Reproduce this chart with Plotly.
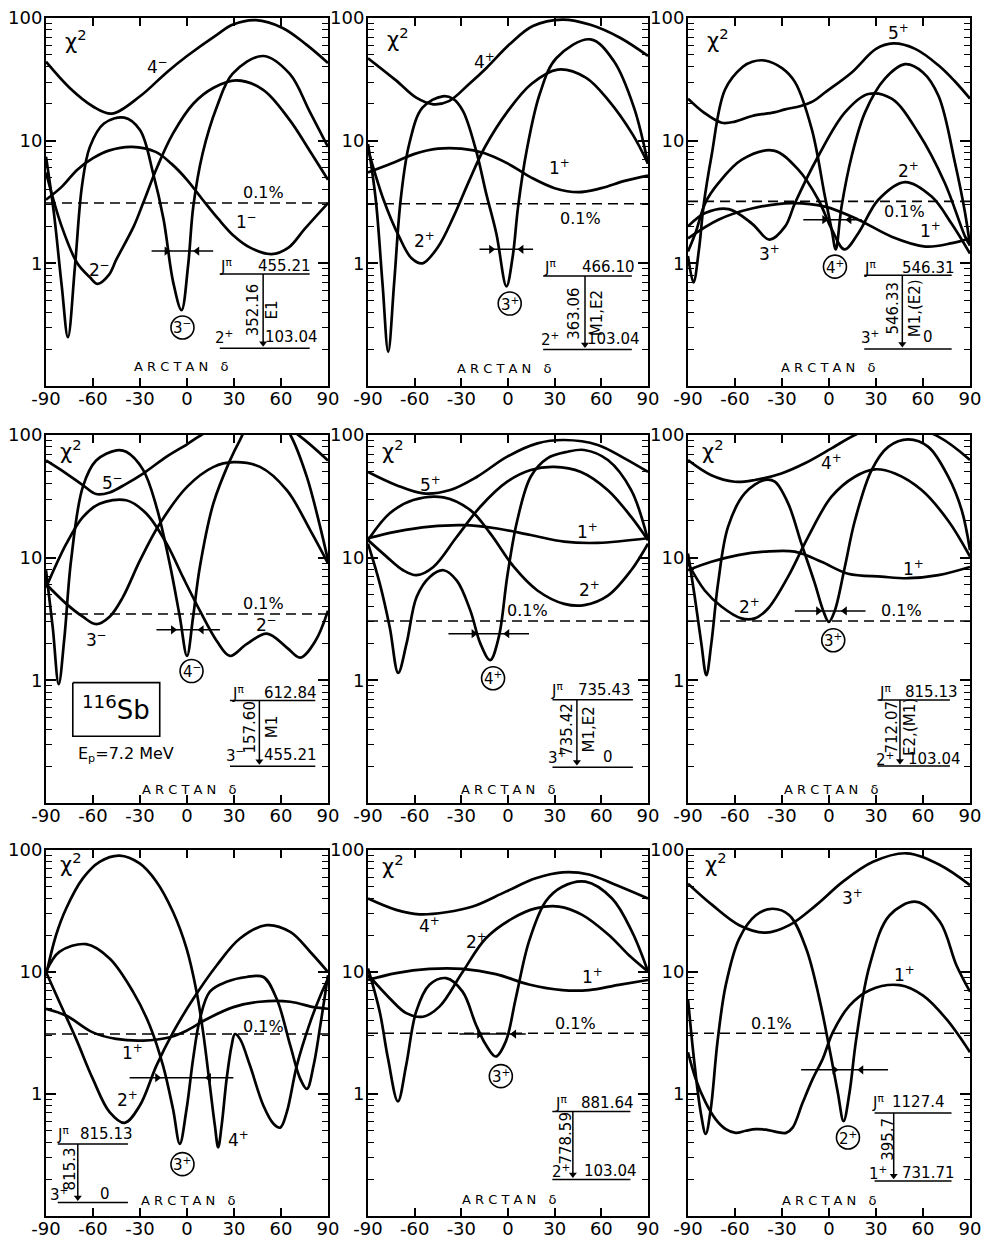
import math
import plotly.graph_objects as go

# ------------------------------------------------------------------
# DATA  (x = arctan(delta) in degrees, y = chi^2)
# ------------------------------------------------------------------
X_TICKS = [-90, -60, -30, 0, 30, 60, 90]
X_TICK_TEXT = ["-90", "-60", "-30", "0", "30", "60", "90"]
Y_MAJOR = [0.1, 1, 10, 100]
Y_MAJOR_TEXT = ["", "1", "10", "100"]
Y_MINOR = [0.2, 0.3, 0.4, 0.5, 0.6, 0.7, 0.8, 0.9, 2, 3, 4, 5, 6, 7, 8, 9,
           20, 30, 40, 50, 60, 70, 80, 90]

# Panel 1: 455.21 level
p1_4m_x = [-90, -75, -60, -48, -30, -13, 0, 19, 29, 44, 61, 76, 90]
p1_4m_y = [44, 27, 19, 16.6, 23, 36, 49, 73, 88, 96, 83, 61, 43]
p1_3m_x = [-90, -85, -80, -76, -71.5, -67, -62, -53, -40, -30, -21.6, -15, -8.8, -3.5, 0.7, 4, 10, 19, 29, 48.5, 65.6, 78, 90]
p1_3m_y = [7.4, 2.6, 0.66, 0.25, 0.95, 4.3, 8.9, 13.8, 15.4, 12.2, 5.4, 2.3, 0.7, 0.415, 0.96, 2.9, 7.9, 18.8, 35, 49, 35, 17.6, 8.9]
p1_2m_x = [-90, -80, -70, -62, -57, -50, -45, -34, -28, -19, -9, 4, 17, 31.5, 48.6, 65.6, 78, 90]
p1_2m_y = [5.5, 2.0, 1.0, 0.77, 0.68, 0.8, 1.08, 2.0, 3.1, 6.1, 11.4, 20, 27, 31, 26, 14.7, 8.4, 4.8]
p1_1m_x = [-90, -80, -70, -60, -50, -35, -20, -10, 0, 10, 20, 30, 40, 54, 65, 75, 90]
p1_1m_y = [3.3, 4.2, 5.8, 7.2, 8.3, 8.9, 8.1, 6.5, 4.8, 3.3, 2.3, 1.67, 1.35, 1.19, 1.35, 1.9, 3.1]

# Panel 2: 466.10 level
p2_4p_x = [-90, -72, -59, -48, -38, -25, -14, 1, 16, 35, 53, 72, 90]
p2_4p_y = [47, 31, 22.4, 19.8, 21, 29, 39, 61, 86, 97, 88, 69, 49]
p2_3p_x = [-90, -85, -80.7, -77, -73.2, -69, -63.5, -55, -42, -35.5, -29, -20.5, -14, -7.5, -1, 3, 6.5, 12, 20.4, 31, 53, 68, 81, 90]
p2_3p_y = [9.4, 3.3, 0.69, 0.19, 0.69, 3.3, 9.4, 18.6, 23, 22, 17.5, 8.3, 3.7, 1.75, 0.65, 1.13, 2.9, 8.3, 24, 47, 67, 44.6, 18.6, 6.5]
p2_2p_x = [-90, -80, -70, -62, -55, -45, -35, -25, -15, 0, 15, 32, 50, 65, 80, 90]
p2_2p_y = [8.5, 3.3, 1.65, 1.1, 1.0, 1.36, 2.4, 4.7, 8.8, 17.5, 29, 38, 32.7, 21, 11.3, 6.5]
p2_1p_x = [-90, -75, -60, -45, -30, -15, 0, 15, 30, 45, 60, 75, 90]
p2_1p_y = [5.5, 6.5, 7.8, 8.6, 8.6, 7.9, 6.5, 5.0, 4.1, 3.8, 4.1, 4.7, 5.2]

# Panel 3: 546.31 level
p3_5p_x = [-90, -80, -68.5, -60, -49, -35, -28, -18, -10, -2.6, 14.5, 30, 41, 55, 70, 80, 90]
p3_5p_y = [22, 17, 14, 14.3, 15.9, 17, 18, 19.2, 21, 24.7, 36, 56, 62, 56, 41, 30.8, 22]
p3_4p_x = [-90, -86.5, -83, -80, -75, -66.4, -55, -49, -41, -30, -21.7, -11, -2.6, 1.7, 4.3, 8, 14.5, 23, 35.7, 48.5, 60, 70, 80.4, 86.8, 90]
p3_4p_y = [1.15, 0.7, 1.3, 3.0, 7.5, 26, 40, 44, 45, 39, 30, 12.4, 3.5, 1.88, 1.3, 2.9, 7.5, 17, 32, 42, 36, 23, 6.6, 2.6, 1.4]
p3_3p_x = [-90, -79, -64, -49, -38, -28, -21.7, -6.8, 10.2, 25, 40, 57, 74, 86.8, 90]
p3_3p_y = [2.0, 2.57, 2.77, 2.1, 1.56, 2.0, 3.1, 7.5, 17, 24, 22, 11.6, 4.5, 1.66, 1.4]
p3_2p_x = [-90, -85, -79, -70.6, -55.6, -35.4, -19.6, -6.8, 1.7, 9.9, 18.7, 31.5, 48.5, 65.5, 78.3, 90]
p3_2p_y = [1.25, 1.8, 3.1, 4.5, 7.0, 8.3, 5.8, 3.3, 1.9, 1.3, 1.76, 3.3, 4.6, 3.5, 2.1, 1.2]
p3_1p_x = [-90, -70.6, -49.3, -23.8, -2.6, 18.7, 40, 61.5, 78.5, 90]
p3_1p_y = [1.6, 2.27, 2.8, 3.1, 2.9, 2.27, 1.65, 1.37, 1.46, 1.6]

# Panel 4: 612.84 level
p4_5m_x = [-90, -77, -66.5, -58, -49.4, -38.8, -28, -13, 0, 8, 20, 35, 55, 72, 90]
p4_5m_y = [62, 48.5, 39, 33, 34, 40, 48.5, 66.6, 84, 98, 120, 140, 135, 98, 62]
p4_4m_x = [-90, -85.7, -81.9, -78.3, -74, -66.5, -58, -45, -38.8, -28, -19.5, -11, -4.6, 0, 3.9, 8.2, 16.8, 27.4, 33.8, 45, 56, 66, 76.5, 85, 90]
p4_4m_y = [7.9, 2.7, 0.93, 2.2, 9.5, 37.8, 62, 75, 73, 52, 26, 8.9, 3.3, 1.58, 3.3, 8.4, 27.6, 62, 91, 160, 150, 100, 45.6, 17.8, 9.5]
p4_3m_x = [-90, -77, -66.5, -58, -49.4, -41, -30, -17.4, 0, 17, 29.6, 46.6, 63.7, 78.7, 90]
p4_3m_y = [6.1, 4.2, 3.3, 2.87, 3.3, 4.75, 9.5, 18.9, 37.8, 55, 60, 55, 35.5, 16.7, 9.0]
p4_2m_x = [-90, -77, -66.5, -55.8, -38.8, -26, -13, -2.5, 8.2, 18.9, 27.4, 38, 51, 63.7, 72.3, 82, 90]
p4_2m_y = [5.7, 13, 21.4, 27.5, 29.4, 22.9, 13, 6.9, 3.7, 2.1, 1.58, 1.97, 2.4, 1.85, 1.53, 2.1, 3.7]

# Panel 5: 735.43 level
p5_5p_x = [-90, -71.7, -54.4, -37.2, -19.9, -0.5, 18.9, 36.1, 57.7, 74.9, 90]
p5_5p_y = [50, 39, 33.4, 35.6, 45.7, 66.6, 85.5, 91, 83, 64.5, 50]
p5_4p_x = [-90, -82.5, -76, -70.6, -65.2, -58.7, -50.1, -41.5, -32.9, -24.2, -17.8, -11.5, -5.9, -0.5, 5.9, 14.6, 25.3, 38.3, 49, 64.2, 79.2, 90]
p5_4p_y = [13, 6.2, 2.7, 1.15, 2.0, 4.8, 7, 7.9, 6.5, 3.7, 2.0, 1.46, 2.26, 7, 20, 45.7, 64.5, 73, 75.5, 62.5, 35.5, 13.9]
p5_3p_x = [-90, -78.1, -67.4, -58.7, -48, -32.9, -17.8, -0.5, 14.6, 29.7, 46.9, 64.2, 79.2, 90]
p5_3p_y = [13.9, 10.2, 7.9, 7.2, 8.4, 14.8, 26, 41.6, 51.8, 55, 50, 35.5, 21.5, 13.9]
p5_2p_x = [-90, -76, -60.9, -41.5, -24.2, -11.3, 3.8, 18.9, 36.1, 49, 64.2, 79.2, 90]
p5_2p_y = [13.9, 23, 29.5, 31, 24.4, 15.7, 8.4, 5.4, 4.2, 4.1, 4.9, 7.9, 13]
p5_1p_x = [-90, -71.7, -50.1, -28.6, -7, 14.6, 36.1, 57.7, 90]
p5_1p_y = [14.4, 16.3, 17.9, 18.4, 17.3, 15.3, 13.5, 13.2, 14.4]

# Panel 6: 815.13 level
p6_4p_x = [-90, -75.1, -60.2, -47.4, -30.4, -15.4, 1.6, 16.5, 40, 69.8, 90]
p6_4p_y = [62.5, 47, 41.6, 43, 48.6, 58.8, 77.8, 100, 130, 97, 62.5]
p6_3p_x = [-90, -85.7, -81.5, -78.3, -75.1, -70.8, -64.4, -53.8, -41, -34.6, -26.1, -17.6, -9.1, -3.7, -0.1, 3.7, 10.1, 16.5, 27.2, 37.8, 50.6, 63.4, 76.1, 84.7, 90]
p6_3p_y = [10.8, 4.8, 2.0, 1.1, 2.0, 6.2, 17.9, 33.4, 43, 41.6, 27.7, 13, 6.2, 3.7, 3.0, 3.7, 8.4, 20, 51.8, 80, 92, 80, 45.7, 24.4, 11.5]
p6_2p_x = [-90, -79.3, -68.7, -55.9, -47.4, -38.9, -26.1, -13.3, 1.6, 16.5, 29.3, 42.1, 59.1, 76.1, 90]
p6_2p_y = [9, 5.4, 4.0, 3.2, 3.2, 3.85, 7, 14.8, 31.4, 45.7, 52.5, 48.6, 35.6, 20, 10.2]
p6_1p_x = [-90, -75.1, -58.1, -41, -21.8, -4.8, 12.2, 33.5, 50.6, 69.8, 90]
p6_1p_y = [7.9, 9.25, 10.5, 11.2, 11.2, 9.25, 7.4, 7, 6.8, 7.2, 8.4]

# Panel 7: 815.13 level (ground-state branch)
p7_4p_x = [-90, -83.6, -77.2, -66.5, -55.8, -43, -30.2, -19.5, -8.9, -0.3, 6.1, 10.3, 14.6, 17.8, 19.9, 22.1, 25.3, 28.5, 30.6, 33.8, 40.2, 48.8, 55.2, 59.5, 63.7, 70.1, 78.7, 85.1, 90]
p7_4p_y = [9.4, 20, 33, 58.5, 80, 90, 77.6, 55, 31, 15.6, 6.9, 3.2, 1.17, 0.55, 0.365, 0.55, 1.33, 2.5, 3.1, 2.83, 1.71, 0.8, 0.57, 0.53, 0.71, 1.71, 3.9, 6.4, 8.8]
p7_3p_x = [-90, -81.5, -64.4, -49.4, -34.5, -23.8, -15.3, -8.9, -4.6, -0.3, 3.9, 8.2, 14.6, 25.3, 38.1, 48.8, 57.3, 65.9, 72.3, 76.5, 80.8, 85.1, 90]
p7_3p_y = [10, 14.6, 16.9, 12.9, 6.9, 3.65, 1.71, 0.75, 0.39, 0.75, 1.94, 4.1, 6.9, 8.3, 9.1, 9.1, 6.0, 2.5, 1.33, 1.1, 1.71, 3.65, 9.4]
p7_2p_x = [-90, -81.5, -70.8, -60.1, -49.4, -39.8, -30.2, -19.5, -8.9, 3.9, 18.9, 33.8, 50.9, 65.9, 78.7, 90]
p7_2p_y = [10, 5.7, 2.83, 1.33, 0.71, 0.58, 0.8, 1.71, 3.2, 6.0, 11.3, 18.8, 24.2, 21.3, 14.6, 10]
p7_1p_x = [-90, -77.2, -60.1, -45.2, -28.1, -11, -0.3, 12.5, 29.6, 46.6, 65.9, 80.8, 90]
p7_1p_y = [5.0, 4.4, 3.2, 2.83, 2.74, 2.92, 3.3, 4.1, 5.15, 5.7, 5.7, 5.15, 5.0]

# Panel 8: 881.64 level
p8_4p_x = [-90, -71.9, -56.9, -39.8, -22.7, -1.4, 17.8, 34.9, 52, 69.1, 90]
p8_4p_y = [40, 32.3, 29.7, 30.9, 34.4, 45.6, 58.6, 65.6, 63, 51.8, 40]
p8_3p_x = [-90, -82.5, -77.2, -70.8, -65.4, -59, -50.5, -39.8, -29.2, -20.6, -14.2, -7.8, -1.4, 5, 13.5, 24.2, 34.9, 49.8, 66.9, 79.7, 90]
p8_3p_y = [10.7, 4.75, 1.97, 0.87, 1.74, 4.75, 7.85, 8.9, 6.9, 3.7, 2.53, 2.03, 2.7, 6.1, 17.8, 37.8, 50, 55, 40, 21.4, 10.1]
p8_2p_x = [-90, -76.1, -65.4, -54.7, -44.1, -29.2, -14.2, 2.9, 17.8, 32.8, 47.7, 64.8, 77.6, 90]
p8_2p_y = [9.5, 6.1, 4.6, 4.3, 5.2, 10, 18.9, 27.5, 33.2, 34.4, 29.4, 20.1, 13.8, 10.1]
p8_1p_x = [-90, -71.9, -50.5, -29.2, -7.8, 13.5, 34.9, 52, 71.2, 90]
p8_1p_y = [8.6, 9.8, 10.6, 10.6, 9.6, 7.9, 7.1, 7.1, 7.85, 8.6]

# Panel 9: 1127.4 level
p9_3p_x = [-90, -74.4, -57.3, -40.3, -25.3, -8.2, 8.9, 28.1, 49.4, 70.8, 90]
p9_3p_y = [53, 35.3, 24.2, 21, 24.2, 35.3, 55, 80, 94, 75.4, 51.5]
p9_2p_x = [-90, -86.2, -81.9, -78.7, -75.5, -71.2, -65.9, -57.3, -46.7, -36, -25.3, -14.6, -6.1, 0.3, 5.6, 9.3, 13.1, 17.4, 25.9, 38.7, 55.8, 70.8, 81.4, 90]
p9_2p_y = [6.0, 1.94, 0.71, 0.47, 0.75, 2.66, 7.8, 18.8, 29.2, 33, 29.2, 15.6, 6.0, 2.35, 1.03, 0.6, 1.03, 2.83, 11.3, 29.2, 37.6, 25.8, 11.3, 6.9]
p9_1p_x = [-90, -85.1, -78.7, -72.3, -65.9, -59.5, -53.1, -46.7, -40.3, -33.8, -27.4, -23.2, -16.8, -10.4, -4, 2.4, 13.1, 25.9, 45.1, 60.1, 75, 90]
p9_1p_y = [2.2, 1.33, 0.85, 0.62, 0.515, 0.48, 0.5, 0.515, 0.51, 0.49, 0.48, 0.53, 0.85, 1.33, 1.94, 3.2, 5.3, 7.1, 7.8, 6.4, 4.1, 2.2]

# 0.1 % confidence level in each panel
LIMITS = [3.1, 3.06, 3.2, 3.47, 3.05, 3.05, 3.1, 3.15, 3.15]

# level-scheme texts per panel
LEVEL_E = ["455.21", "466.10", "546.31", "612.84", "735.43", "815.13", "815.13", "881.64", "1127.4"]
FINAL_J = ["2<sup>+</sup>", "2<sup>+</sup>", "3<sup>+</sup>", "3<sup>−</sup>", "3<sup>+</sup>", "2<sup>+</sup>", "3<sup>+</sup>", "2<sup>+</sup>", "1<sup>+</sup>"]
FINAL_E = ["103.04", "103.04", "0", "455.21", "0", "103.04", "0", "103.04", "731.71"]
GAMMA_E = ["352.16", "363.06", "546.33", "157.60", "735.42", "712.07", "815.3", "778.59", "395.7"]
MULTIPOL = ["E1", "M1,E2", "M1,(E2)", "M1", "M1,E2", "E2,(M1)", "", "", ""]

# ------------------------------------------------------------------
FONT = "DejaVu Sans"
W, H = 983, 1238
COLS = [(46, 328), (368, 648), (688, 970)]
ROWS = [(18, 386), (435, 803), (850, 1216)]

fig = go.Figure()


def refs(i):
    s = "" if i == 1 else str(i)
    return "x" + s, "y" + s


def curve(i, xs, ys, width=2.7, shape="spline", dash=None):
    xr, yr = refs(i)
    fig.add_trace(go.Scatter(x=xs, y=ys, mode="lines", xaxis=xr, yaxis=yr,
                             line=dict(color="black", width=width, shape=shape,
                                       smoothing=1.0, dash=dash),
                             showlegend=False, hoverinfo="skip"))


def text(i, x, y, s, size=17, angle=0):
    xr, yr = refs(i)
    fig.add_annotation(x=x, y=math.log10(y), xref=xr, yref=yr, text=s,
                       showarrow=False, textangle=angle,
                       font=dict(family=FONT, size=size, color="black"),
                       xanchor="center", yanchor="middle")


def marker(i, xs, ys, symbol, size, open_=False):
    xr, yr = refs(i)
    m = dict(symbol=symbol, size=size, color="black")
    m["line"] = dict(width=1.6 if open_ else 0, color="black")
    fig.add_trace(go.Scatter(x=xs, y=ys, mode="markers", xaxis=xr, yaxis=yr,
                             marker=m, showlegend=False, hoverinfo="skip"))


def circled(i, x, y, s):
    marker(i, [x], [y], "circle-open", 23, open_=True)
    text(i, x, y, s, size=15)


def arrow_bar(i, y, x0, x1, xa, xb):
    curve(i, [x0, x1], [y, y], width=1.5, shape="linear")
    marker(i, [xa], [y], "triangle-right", 8)
    marker(i, [xb], [y], "triangle-left", 8)


def level_scheme(i, xl, xr, ytop, ybot, xarr, xj, xe, yjt, xf, xfe, yfb, xg, xm, ymid):
    k = i - 1
    curve(i, [xl, xr], [ytop, ytop], width=1.5, shape="linear")
    curve(i, [xl, xr], [ybot, ybot], width=1.5, shape="linear")
    curve(i, [xarr, xarr], [ytop, ybot * 1.12], width=1.5, shape="linear")
    marker(i, [xarr], [ybot * 1.1], "triangle-down", 7)
    text(i, xj, yjt, "J<sup>π</sup>", size=15)
    text(i, xe, yjt, LEVEL_E[k], size=15)
    text(i, xf, yfb, FINAL_J[k], size=15)
    text(i, xfe, yfb, FINAL_E[k], size=15)
    text(i, xg, ymid, GAMMA_E[k], size=15, angle=-90)
    if MULTIPOL[k]:
        text(i, xm, ymid, MULTIPOL[k], size=15, angle=-90)


# axes
layout = dict(width=W, height=H, margin=dict(l=0, r=0, t=0, b=0, pad=0),
              paper_bgcolor="white", plot_bgcolor="white", showlegend=False)
for r, (t, b) in enumerate(ROWS):
    for c, (l, rr) in enumerate(COLS):
        i = r * 3 + c + 1
        s = "" if i == 1 else str(i)
        layout["xaxis" + s] = dict(
            domain=[l / W, rr / W], anchor="y" + s,
            range=[-90, 90], automargin=False, ticklabeloverflow="allow",
            tickvals=X_TICKS, ticktext=X_TICK_TEXT, ticks="inside", ticklen=8,
            tickwidth=1.5, tickcolor="black", showline=True, linewidth=2,
            linecolor="black", mirror="allticks", showgrid=False, zeroline=False,
            ticklabelstandoff=-5,
            tickfont=dict(family=FONT, size=18, color="black"), fixedrange=True)
        layout["yaxis" + s] = dict(
            domain=[1 - b / H, 1 - t / H], anchor="x" + s,
            type="log", range=[-1, 2], automargin=False, ticklabeloverflow="allow",
            tickvals=Y_MAJOR, ticktext=Y_MAJOR_TEXT, ticks="inside", ticklen=10,
            tickwidth=1.5, tickcolor="black", showline=True, linewidth=2,
            linecolor="black", mirror="allticks", showgrid=False, zeroline=False,
            ticklabelstandoff=-2,
            minor=dict(tickvals=Y_MINOR, ticks="inside", ticklen=6, tickwidth=1.2,
                       tickcolor="black", showgrid=False),
            tickfont=dict(family=FONT, size=18, color="black"), fixedrange=True)
fig.update_layout(**layout)

PANEL_CURVES = [
    [(p1_4m_x, p1_4m_y), (p1_3m_x, p1_3m_y), (p1_2m_x, p1_2m_y), (p1_1m_x, p1_1m_y)],
    [(p2_4p_x, p2_4p_y), (p2_3p_x, p2_3p_y), (p2_2p_x, p2_2p_y), (p2_1p_x, p2_1p_y)],
    [(p3_5p_x, p3_5p_y), (p3_4p_x, p3_4p_y), (p3_3p_x, p3_3p_y), (p3_2p_x, p3_2p_y), (p3_1p_x, p3_1p_y)],
    [(p4_5m_x, p4_5m_y), (p4_4m_x, p4_4m_y), (p4_3m_x, p4_3m_y), (p4_2m_x, p4_2m_y)],
    [(p5_5p_x, p5_5p_y), (p5_4p_x, p5_4p_y), (p5_3p_x, p5_3p_y), (p5_2p_x, p5_2p_y), (p5_1p_x, p5_1p_y)],
    [(p6_4p_x, p6_4p_y), (p6_3p_x, p6_3p_y), (p6_2p_x, p6_2p_y), (p6_1p_x, p6_1p_y)],
    [(p7_4p_x, p7_4p_y), (p7_3p_x, p7_3p_y), (p7_2p_x, p7_2p_y), (p7_1p_x, p7_1p_y)],
    [(p8_4p_x, p8_4p_y), (p8_3p_x, p8_3p_y), (p8_2p_x, p8_2p_y), (p8_1p_x, p8_1p_y)],
    [(p9_3p_x, p9_3p_y), (p9_2p_x, p9_2p_y), (p9_1p_x, p9_1p_y)],
]

for k, curves in enumerate(PANEL_CURVES):
    i = k + 1
    for xs, ys in curves:
        curve(i, xs, ys)
    curve(i, [-90, 90], [LIMITS[k], LIMITS[k]], width=1.6, shape="linear", dash="10px,6px")

SUP_P = "<sup>+</sup>"
SUP_M = "<sup>−</sup>"
CHI = "χ<sup>2</sup>"
ARC = "A R C T A N   δ"

# ---- panel 1
text(1, -71, 66, CHI, size=21)
text(1, -19, 41, "4" + SUP_M)
text(1, -55.6, 0.9, "2" + SUP_M)
text(1, 38, 2.2, "1" + SUP_M)
text(1, 48.6, 3.8, "0.1%", size=16)
circled(1, -2.9, 0.30, "3" + SUP_M)
text(1, -3.5, 0.145, ARC, size=13)
arrow_bar(1, 1.26, -22.6, 16.7, -13, 6.5)
level_scheme(1, 20.9, 78.3, 0.82, 0.203, 48.6, 25.2, 62.4, 0.96, 23.5, 66.6, 0.25, 42.2, 54.5, 0.415)

# ---- panel 2
text(2, -71, 69, CHI, size=21)
text(2, -15, 44.6, "4" + SUP_P)
text(2, 33.4, 6.1, "1" + SUP_P)
text(2, -53.8, 1.55, "2" + SUP_P)
text(2, 46.3, 2.3, "0.1%", size=16)
circled(2, 1.1, 0.47, "3" + SUP_P)
text(2, -2.2, 0.14, ARC, size=13)
arrow_bar(2, 1.3, -18.3, 16.1, -10.8, 8.6)
level_scheme(2, 22.6, 79.6, 0.79, 0.198, 49.5, 26.9, 64.6, 0.94, 26.9, 67.8, 0.24, 42, 57, 0.39)

# ---- panel 3
text(3, -70.6, 68, CHI, size=21)
text(3, 44.2, 77, "5" + SUP_P)
text(3, 50.6, 5.8, "2" + SUP_P)
text(3, 48.5, 2.65, "0.1%", size=16)
text(3, 64.5, 1.88, "1" + SUP_P)
text(3, -37.7, 1.21, "3" + SUP_P)
circled(3, 3.8, 0.94, "4" + SUP_P)
text(3, -0.4, 0.142, ARC, size=13)
arrow_bar(3, 2.27, -16.4, 20.9, -3, 13)
level_scheme(3, 22.5, 78.3, 0.80, 0.20, 46.8, 26.2, 63.4, 0.91, 26.2, 63.4, 0.25, 41, 54.9, 0.43)

# ---- panel 4
text(4, -74, 75, CHI, size=21)
text(4, -47.3, 41.5, "5" + SUP_M)
text(4, -58, 2.17, "3" + SUP_M)
text(4, 51, 2.87, "2" + SUP_M)
text(4, 48.8, 4.2, "0.1%", size=16)
circled(4, 2.9, 1.19, "4" + SUP_M)
text(4, 1.8, 0.128, ARC, size=13)
arrow_bar(4, 2.58, -19.5, 21, -8.9, 9.3)
level_scheme(4, 27.4, 81.9, 0.685, 0.199, 46.2, 32.8, 65.9, 0.79, 30.6, 65.9, 0.245, 40.2, 54.1, 0.42)
curve(4, [-72.9, -17.4, -17.4, -72.9, -72.9], [0.957, 0.957, 0.35, 0.35, 0.957], width=1.6, shape="linear")
text(4, -45.2, 0.6, "<sup>116</sup>Sb", size=26)
text(4, -38.8, 0.248, "E<sub>p</sub>=7.2 MeV", size=16)

# ---- panel 5
text(5, -73.8, 75, CHI, size=21)
text(5, -50.1, 40, "5" + SUP_P)
text(5, 51.2, 16.5, "1" + SUP_P)
text(5, 52.3, 5.6, "2" + SUP_P)
text(5, 12.4, 3.7, "0.1%", size=16)
circled(5, -9.6, 1.04, "4" + SUP_P)
text(5, 0.6, 0.13, ARC, size=13)
arrow_bar(5, 2.4, -38.3, 13.5, -22.1, -0.5)
level_scheme(5, 28.6, 80.3, 0.695, 0.196, 44.3, 31.8, 62, 0.83, 31.8, 64.2, 0.236, 38.3, 52.3, 0.40)

# ---- panel 6
text(6, -74, 75, CHI, size=21)
text(6, 1.6, 60, "4" + SUP_P)
text(6, -50.6, 4.0, "2" + SUP_P)
text(6, 53.8, 8.3, "1" + SUP_P)
text(6, 46.3, 3.7, "0.1%", size=16)
circled(6, 2.7, 2.12, "3" + SUP_P)
text(6, 1.6, 0.13, ARC, size=13)
arrow_bar(6, 3.68, -21.8, 23.3, -6.9, 10.1)
level_scheme(6, 31, 77.2, 0.69, 0.2, 45.3, 35.7, 65.5, 0.80, 35.7, 67.6, 0.23, 40.5, 51.6, 0.416)

# ---- panel 7
text(7, -74, 78, CHI, size=21)
text(7, -34.5, 2.2, "1" + SUP_P)
text(7, -37.7, 0.91, "2" + SUP_P)
text(7, 32.8, 0.43, "4" + SUP_P)
text(7, 48.8, 3.6, "0.1%", size=16)
circled(7, -2.9, 0.266, "3" + SUP_P)
text(7, 0.7, 0.133, ARC, size=13)
arrow_bar(7, 1.36, -36.6, 29.6, -19, 14)
level_scheme(7, -82.5, -37.7, 0.39, 0.129, -69.7, -79.3, -51.6, 0.47, -81.5, -52.6, 0.152, -74.5, -60, 0.242)

# ---- panel 8
text(8, -74, 75, CHI, size=21)
text(8, -50.5, 24.3, "4" + SUP_P)
text(8, -20, 18, "2" + SUP_P)
text(8, 54.1, 9.3, "1" + SUP_P)
text(8, 43.4, 3.8, "0.1%", size=16)
circled(8, -4.6, 1.4, "3" + SUP_P)
text(8, 0.7, 0.136, ARC, size=13)
arrow_bar(8, 3.1, -31.3, 11.4, -18.5, 3.9)
level_scheme(8, 28.5, 78.7, 0.72, 0.199, 41.7, 33.8, 63.7, 0.84, 33.8, 65.9, 0.233, 37, 50, 0.436)

# ---- panel 9
text(9, -72.3, 78, CHI, size=21)
text(9, 15.3, 41, "3" + SUP_P)
text(9, 48.3, 9.7, "1" + SUP_P)
text(9, -37, 3.76, "0.1%", size=16)
circled(9, 12.1, 0.44, "2" + SUP_P)
text(9, 0.3, 0.133, ARC, size=13)
arrow_bar(9, 1.58, -17.8, 37.7, 3.5, 20.6)
level_scheme(9, 29.1, 78.2, 0.70, 0.194, 41.3, 31.3, 56.9, 0.855, 31.5, 63.3, 0.227, 37.5, 50, 0.427)

fig.write_html("out.html", config={"displayModeBar": False},
               post_script="document.body.style.margin='0';document.body.style.overflow='hidden';")
